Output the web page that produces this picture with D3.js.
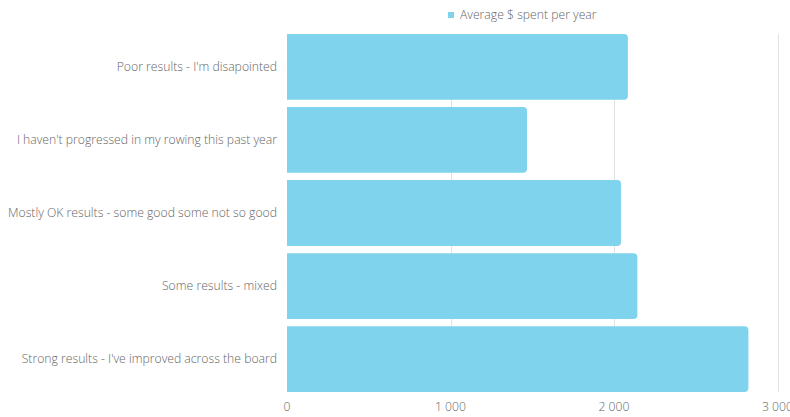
<!DOCTYPE html>
<html>
<head>
<meta charset="utf-8">
<script src="https://cdn.jsdelivr.net/npm/d3@7"></script>
<style>
  body { margin: 0; background: #fff; }
  svg { display: block; font-family: "Open Sans", sans-serif; }
  .label { fill: #666; font-size: 12.2px; font-weight: 300; }
</style>
</head>
<body>
<div id="chart"></div>
<script>
// Chart data
var categories = [
    'Poor results - I\'m disapointed',
    'I haven\'t progressed in my rowing this past year',
    'Mostly OK results - some good some not so good',
    'Some results - mixed',
    'Strong results - I\'ve improved across the board'
];
var spent = [2085, 1468, 2043, 2143, 2822];
var xTicks = [0, 1000, 2000, 3000];
var seriesName = 'Average $ spent per year';

var width = 790,
    height = 417,
    margin = {top: 34, right: 13, bottom: 25, left: 287},
    barColor = '#7fd3ed';

var drawWidth = width - margin.left - margin.right;
var drawHeight = height - margin.top - margin.bottom;

var svg = d3.select('#chart').append('svg')
    .attr('width', width)
    .attr('height', height);

var xScale = d3.scaleLinear().domain([0, 3000]).range([0, 490.5]);
var yScale = d3.scaleBand().domain(categories).range([0, drawHeight])
    .paddingInner(0.1).paddingOuter(0);

var g = svg.append('g')
    .attr('transform', 'translate(' + margin.left + ',' + margin.top + ')');

// Grid lines
g.selectAll('.grid').data(xTicks.slice(1)).enter()
    .append('line')
    .attr('class', 'grid')
    .attr('x1', function(d) { return Math.round(xScale(d)) + 0.5; })
    .attr('x2', function(d) { return Math.round(xScale(d)) + 0.5; })
    .attr('y1', 0)
    .attr('y2', drawHeight)
    .attr('stroke', '#e2e2e2')
    .attr('stroke-width', 1);

// Bars with rounded right corners
var r = 4;
g.selectAll('.bar').data(spent).enter()
    .append('path')
    .attr('class', 'bar')
    .attr('fill', barColor)
    .attr('d', function(d, i) {
        var x0 = 0, x1 = xScale(d);
        var y0 = yScale(categories[i]), y1 = y0 + yScale.bandwidth();
        return 'M' + x0 + ',' + y0 +
            'H' + (x1 - r) +
            'Q' + x1 + ',' + y0 + ' ' + x1 + ',' + (y0 + r) +
            'V' + (y1 - r) +
            'Q' + x1 + ',' + y1 + ' ' + (x1 - r) + ',' + y1 +
            'H' + x0 + 'Z';
    });

// Category labels
g.selectAll('.cat').data(categories).enter()
    .append('text')
    .attr('class', 'label')
    .attr('x', -10)
    .attr('y', function(d) { return yScale(d) + yScale.bandwidth() / 2; })
    .attr('dy', '0.35em')
    .attr('text-anchor', 'end')
    .text(function(d) { return d; });

// X axis tick labels
var fmt = function(d) { return d3.format(',')(d).replace(/,/g, ' '); };
g.selectAll('.tick-label').data(xTicks).enter()
    .append('text')
    .attr('class', 'label')
    .attr('x', function(d) { return xScale(d); })
    .attr('y', drawHeight + 19)
    .attr('text-anchor', 'middle')
    .text(fmt);

// Legend
var legend = svg.append('g').attr('transform', 'translate(448,12)');
legend.append('rect')
    .attr('width', 6)
    .attr('height', 6)
    .attr('fill', barColor);
legend.append('text')
    .attr('class', 'label')
    .attr('x', 12)
    .attr('y', 7)
    .text(seriesName);
</script>
</body>
</html>
